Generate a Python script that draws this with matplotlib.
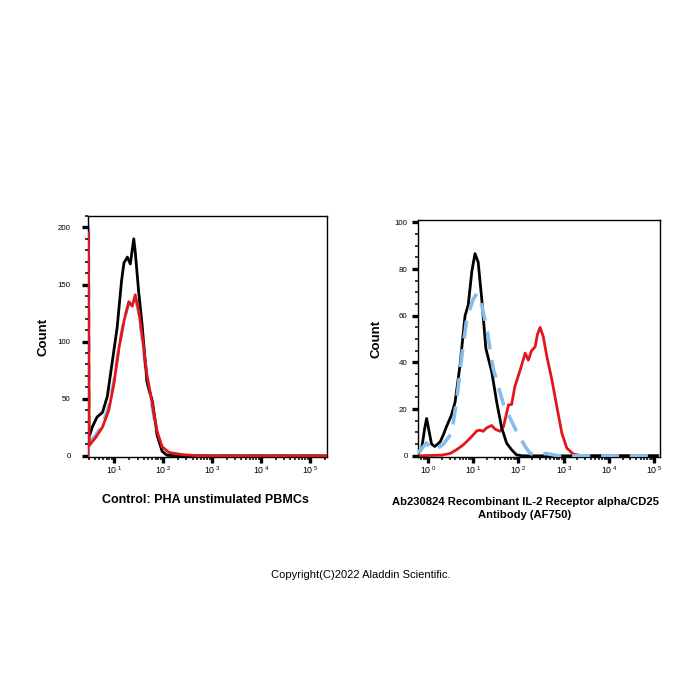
import numpy as np
import matplotlib
matplotlib.use("Agg")
import matplotlib.pyplot as plt
from matplotlib.ticker import FixedLocator, NullFormatter, MultipleLocator

plt.rcParams['font.family'] = ['Liberation Sans', 'DejaVu Sans']
plt.rcParams['mathtext.fontset'] = 'custom'
plt.rcParams['mathtext.rm'] = 'Liberation Sans'
plt.rcParams['mathtext.it'] = 'Liberation Sans'

# ---------------- data (log10 of fluorescence, counts) ----------------
# Left panel: Control: PHA unstimulated PBMCs
L_black_x = [0.50, 0.55, 0.65, 0.76, 0.86, 0.96, 1.06, 1.15, 1.20, 1.27, 1.33, 1.40, 1.43,
             1.50, 1.57, 1.67, 1.78, 1.88, 1.98, 2.08, 2.3, 5.4]
L_black_y = [18, 25, 34, 38, 52, 82, 112, 153, 169, 174, 168, 190, 179,
             144, 115, 65, 48, 18, 4, 0.5, 0, 0]
L_red_x = [0.465, 0.475, 0.49, 0.62, 0.76, 0.89, 0.99, 1.10, 1.20, 1.30, 1.37, 1.43, 1.50,
           1.57, 1.67, 1.78, 1.88, 1.98, 2.12, 2.40, 2.60, 2.75, 5.4]
L_red_y = [0, 195, 9, 16, 25, 40, 62, 95, 118, 135, 131, 141, 127,
           106, 71, 45, 21, 8, 3, 1, 0.5, 0, 0]
L_blue_x = [0.465, 0.475, 0.49, 0.62, 0.76, 0.89, 0.99, 1.10, 1.20, 1.30, 1.37, 1.43, 1.50,
            1.57, 1.67, 1.78, 1.88, 1.98, 2.12, 2.40, 2.60, 5.4]
L_blue_y = [0, 204, 12, 18, 27, 44, 64, 96, 119, 134, 132, 139, 126,
            104, 66, 42, 18, 6, 2, 0.5, 0, 0]

# Right panel: Ab230824 Recombinant IL-2 Receptor alpha/CD25 Antibody (AF750)
R_black_x = [-0.24, -0.14, -0.07, -0.03, 0.01, 0.08, 0.15, 0.27, 0.34, 0.41, 0.52, 0.60,
             0.71, 0.82, 0.89, 0.97, 1.04, 1.11, 1.19, 1.28, 1.41, 1.52, 1.63, 1.74, 1.85,
             1.96, 2.10, 5.2]
R_black_y = [0.4, 3, 12, 16, 12, 5, 4, 6, 9, 12.5, 17.5, 23,
             39, 60, 64.5, 79, 86.6, 83, 67, 46, 36, 23, 12, 5.4, 2.6,
             0.4, 0, 0]
R_blue_x = [-0.24, -0.10, -0.03, 0.08, 0.20, 0.34, 0.52, 0.63, 0.75, 0.86, 1.00, 1.08,
            1.19, 1.30, 1.44, 1.67, 1.96, 2.15, 2.26, 2.45, 2.60, 2.75, 2.90, 5.2]
R_blue_y = [1, 4, 5.5, 3, 3, 5, 9.5, 23, 43, 59, 67, 69.5,
            64.5, 54.6, 37.5, 22, 10.4, 4, 1, 0.3, 1, 0.5, 0, 0]
R_red_x = [-0.24, 0.30, 0.49, 0.63, 0.78, 0.93, 1.08, 1.15, 1.22, 1.30, 1.41, 1.48, 1.59,
           1.67, 1.78, 1.85, 1.92, 2.04, 2.15, 2.22, 2.29, 2.37, 2.42, 2.48, 2.55, 2.63,
           2.74, 2.85, 2.96, 3.07, 3.21, 3.40, 5.2]
R_red_y = [0, 0.3, 1, 2.6, 4.7, 7.5, 10.7, 11, 10.5, 12, 13, 11.5, 10.5,
           12.5, 21.8, 22, 29.6, 36.8, 44, 41, 45, 46.7, 52, 55, 51, 42.4,
           32.5, 21, 9.7, 3.3, 0.8, 0, 0]

left_title = "Control: PHA unstimulated PBMCs"
right_title = "Ab230824 Recombinant IL-2 Receptor alpha/CD25\nAntibody (AF750)"
copyright_text = "Copyright(C)2022 Aladdin Scientific."

BLACK = "#000000"
RED = "#e3161b"
BLUE = "#86bdea"

fig = plt.figure(figsize=(7, 7), dpi=100)
axL = fig.add_axes([88/700, 1-457/700, 239/700, 241/700])
axR = fig.add_axes([418/700, 1-457/700, 242/700, 237/700])


def style(ax, xlim, ylim, ymajor, yminor, decades, ypad):
    ax.set_xlim(*xlim)
    ax.set_ylim(*ylim)
    ax.xaxis.set_major_locator(FixedLocator(decades))
    ax.set_xticklabels([r"10$\,^{%d}$" % d for d in decades])
    minors = [d + np.log10(m) for d in range(-1, 6) for m in range(2, 10)]
    minors = [m for m in minors if xlim[0] < m < xlim[1]]
    ax.xaxis.set_minor_locator(FixedLocator(minors))
    ax.yaxis.set_major_locator(MultipleLocator(ymajor))
    ax.yaxis.set_minor_locator(MultipleLocator(yminor))
    ax.tick_params(axis='both', which='major', direction='out', length=4.5, width=2.4)
    ax.tick_params(axis='y', which='major', labelsize=5.7, pad=ypad)
    ax.tick_params(axis='x', which='major', labelsize=6.3, pad=0.5)
    ax.tick_params(axis='both', which='minor', direction='out', length=2.5, width=1.1)
    for s in ax.spines.values():
        s.set_linewidth(1.0)
    ax.set_ylabel("Count", fontsize=9.5, fontweight='bold')


lw = 2.0
axL.plot(L_blue_x, L_blue_y, color=BLUE, lw=2.4, dashes=(5, 3), zorder=2)
axL.plot(L_black_x, L_black_y, color=BLACK, lw=lw, zorder=3)
axL.plot(L_red_x, L_red_y, color=RED, lw=lw, zorder=4)
style(axL, (0.465, 5.35), (-1, 210), 50, 10, [1, 2, 3, 4, 5], 8)
axL.yaxis.labelpad = 6

axR.plot(R_black_x, R_black_y, color=BLACK, lw=lw, zorder=3)
axR.plot(R_blue_x, R_blue_y, color=BLUE, lw=2.6, dashes=(5, 3), zorder=4)
axR.plot(R_red_x, R_red_y, color=RED, lw=lw, zorder=2)
style(axR, (-0.22, 5.13), (-0.5, 101), 20, 5, [0, 1, 2, 3, 4, 5], 3)
axR.yaxis.labelpad = 9

fig.text(205/700, 1-500/700, left_title, ha='center', va='center',
         fontsize=9, fontweight='bold')
fig.text(525/700, 1-508.5/700, right_title, ha='center', va='center',
         fontsize=8.1, fontweight='bold', linespacing=1.4)
fig.text(361/700, 1-575/700, copyright_text, ha='center', va='center', fontsize=8)

fig.savefig("out.png", dpi=100)
